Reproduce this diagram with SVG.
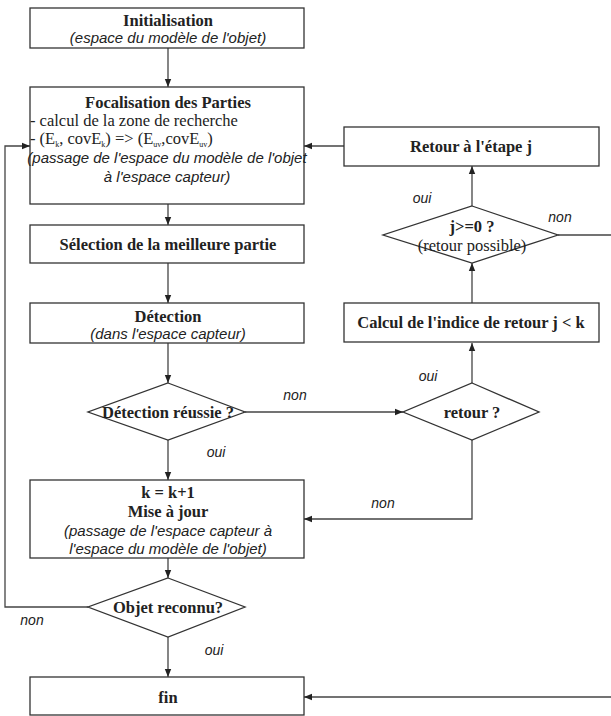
<svg xmlns="http://www.w3.org/2000/svg" width="611" height="716" viewBox="0 0 611 716">
<defs>
<marker id="ah" viewBox="0 0 10 10" refX="10" refY="5" markerWidth="8" markerHeight="8" markerUnits="userSpaceOnUse" orient="auto">
<path d="M0,1 L10,5 L0,9 Z" fill="#222"/>
</marker>
<style>
.box{fill:#fff;stroke:#333;stroke-width:1.3}
.ln{fill:none;stroke:#444;stroke-width:1.3}
.arr{fill:none;stroke:#444;stroke-width:1.3;marker-end:url(#ah)}
.b{font-family:"Liberation Serif",serif;font-weight:bold;font-size:16.5px;fill:#222;text-anchor:middle}
.r{font-family:"Liberation Serif",serif;font-size:16.5px;fill:#222}
.i{font-family:"Liberation Sans",sans-serif;font-style:italic;font-size:15px;fill:#222;text-anchor:middle}
.lab{font-family:"Liberation Sans",sans-serif;font-style:italic;font-size:14px;fill:#222}
</style>
</defs>
<rect width="611" height="716" fill="#fff"/>
<g id="connectors">
<path class="arr" d="M168,48 V87"/>
<path class="arr" d="M168,204 V225"/>
<path class="arr" d="M168,263 V303"/>
<path class="arr" d="M168,343 V383"/>
<path class="arr" d="M245,412 H403"/>
<path class="arr" d="M168,440 V480"/>
<path class="arr" d="M472,383 V343"/>
<path class="arr" d="M472,303 V263"/>
<path class="arr" d="M472,206 V166"/>
<path class="arr" d="M344,146 H304"/>
<path class="ln" d="M558,235 H611"/>
<path class="arr" d="M472,440 V519 H304"/>
<path class="arr" d="M168,558 V578"/>
<path class="arr" d="M88,607 H5 V146 H30"/>
<path class="arr" d="M168,637 V677"/>
<path class="arr" d="M611,697 H304"/>
<text class="lab" x="295" y="400" text-anchor="middle">non</text>
<text class="lab" x="216" y="457" text-anchor="middle">oui</text>
<text class="lab" x="428" y="381" text-anchor="middle">oui</text>
<text class="lab" x="383" y="508" text-anchor="middle">non</text>
<text class="lab" x="422" y="203" text-anchor="middle">oui</text>
<text class="lab" x="560" y="222" text-anchor="middle">non</text>
<text class="lab" x="32" y="625" text-anchor="middle">non</text>
<text class="lab" x="214" y="655" text-anchor="middle">oui</text>
</g>
<g id="init">
<rect class="box" x="30" y="8" width="274" height="40"/>
<text class="b" x="168" y="26">Initialisation</text>
<text class="i" x="168" y="43">(espace du modèle de l'objet)</text>
</g>
<g id="focal">
<rect class="box" x="30" y="87" width="274" height="117"/>
<text class="b" x="168" y="108">Focalisation des Parties</text>
<text class="r" x="30" y="126">- calcul de la zone de recherche</text>
<text class="r" x="30" y="144">- (E<tspan font-size="8" dy="3">k</tspan><tspan dy="-3">, covE</tspan><tspan font-size="8" dy="3">k</tspan><tspan dy="-3">) =&gt; (E</tspan><tspan font-size="8" dy="3">uv</tspan><tspan dy="-3">,covE</tspan><tspan font-size="8" dy="3">uv</tspan><tspan dy="-3">)</tspan></text>
<text class="i" x="167" y="163">(passage de l'espace du modèle de l'objet</text>
<text class="i" x="167" y="182">à l'espace capteur)</text>
</g>
<g id="selection">
<rect class="box" x="30" y="225" width="274" height="38"/>
<text class="b" x="168" y="250">Sélection de la meilleure partie</text>
</g>
<g id="detection">
<rect class="box" x="30" y="303" width="274" height="40"/>
<text class="b" x="168" y="322">Détection</text>
<text class="i" x="168" y="339">(dans l'espace capteur)</text>
</g>
<g id="reussie">
<polygon class="box" points="168,383 245,412 168,440 88,412"/>
<text class="b" x="168" y="418">Détection réussie ?</text>
</g>
<g id="retour">
<polygon class="box" points="472,383 539,412 472,440 403,412"/>
<text class="b" x="472" y="418">retour ?</text>
</g>
<g id="calcul">
<rect class="box" x="344" y="303" width="255" height="39"/>
<text class="b" x="471" y="328">Calcul de l'indice de retour j &lt; k</text>
</g>
<g id="jtest">
<polygon class="box" points="472,206 558,235 472,263 383,235"/>
<text class="b" x="472" y="232">j&gt;=0 ?</text>
<text class="r" x="472" y="251" text-anchor="middle">(retour possible)</text>
</g>
<g id="retourj">
<rect class="box" x="344" y="127" width="255" height="39"/>
<text class="b" x="471" y="152">Retour à l'étape j</text>
</g>
<g id="maj">
<rect class="box" x="30" y="480" width="274" height="78"/>
<text class="b" x="168" y="498">k = k+1</text>
<text class="b" x="168" y="517">Mise à jour</text>
<text class="i" x="168" y="536">(passage de l'espace capteur à</text>
<text class="i" x="168" y="554">l'espace du modèle de l'objet)</text>
</g>
<g id="reconnu">
<polygon class="box" points="168,578 245,607 168,637 88,607"/>
<text class="b" x="168" y="613">Objet reconnu?</text>
</g>
<g id="fin">
<rect class="box" x="30" y="677" width="274" height="38"/>
<text class="b" x="168" y="703">fin</text>
</g>
</svg>
